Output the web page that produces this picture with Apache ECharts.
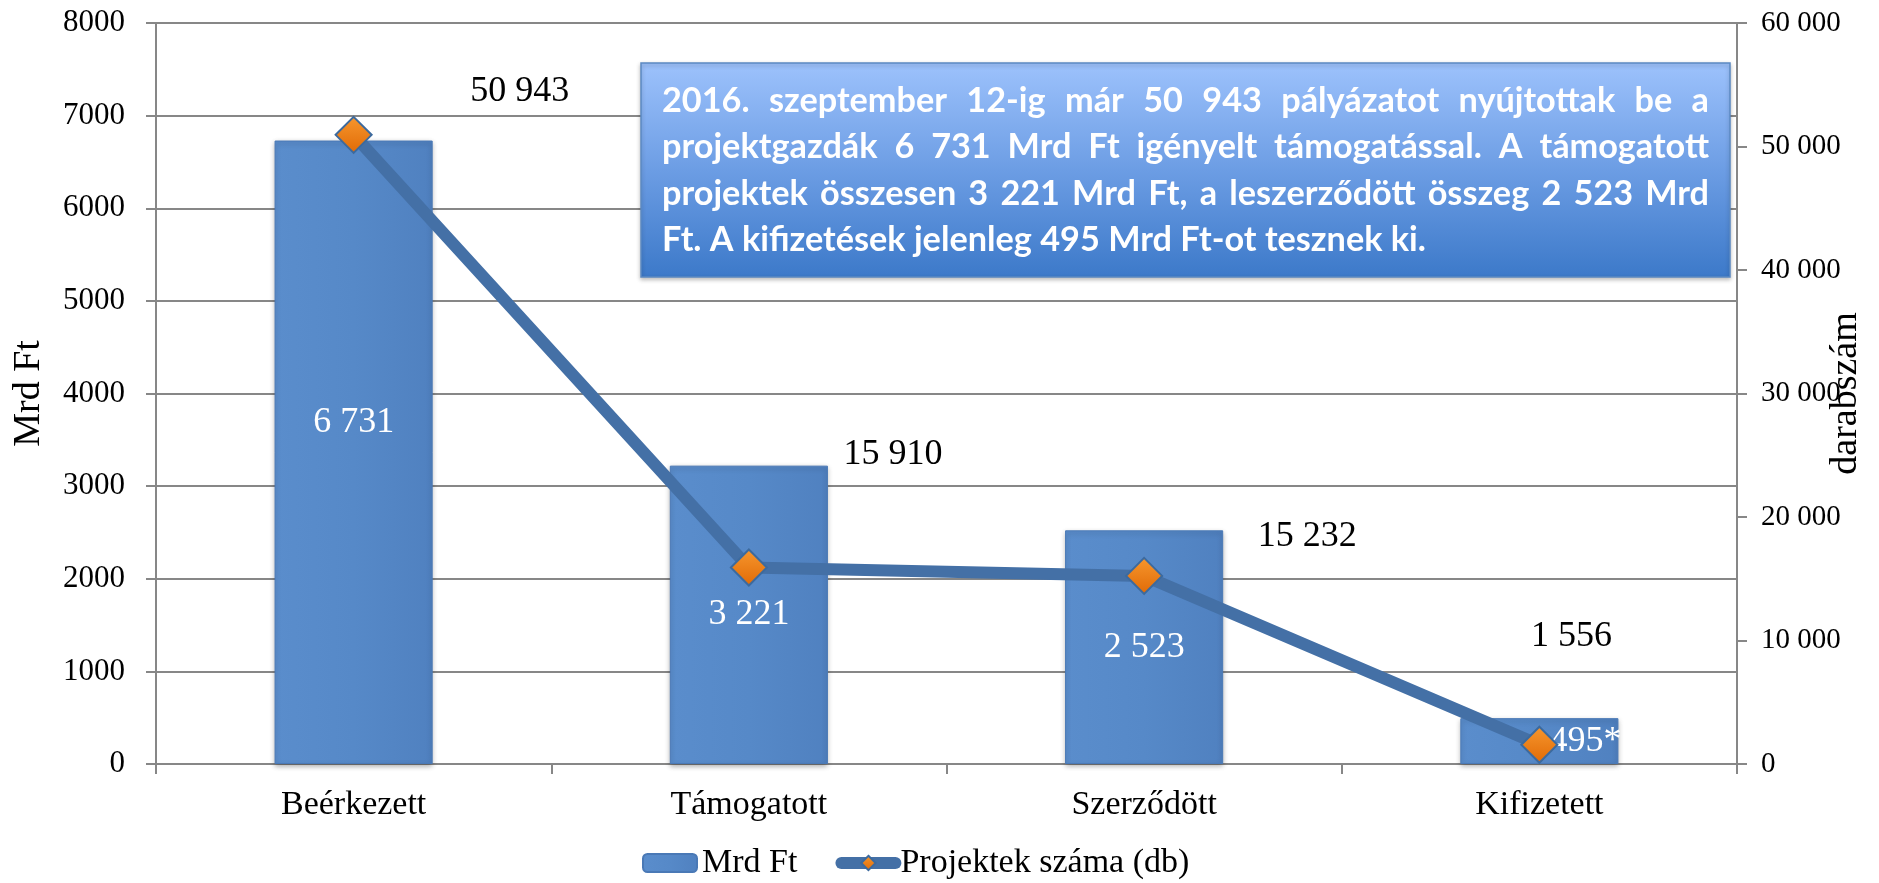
<!DOCTYPE html>
<html>
<head>
<meta charset="utf-8">
<script src="https://cdn.jsdelivr.net/npm/echarts@6/dist/echarts.min.js"></script>
<style>
html, body { margin: 0; padding: 0; background: #fff; }
#chart { width: 1879px; height: 883px; }
</style>
</head>
<body>
<div id="chart"></div>
<script>
// adatok
var categories = ['Beérkezett', 'Támogatott', 'Szerződött', 'Kifizetett'];
var mrdFt = [6731, 3221, 2523, 495];
var mrdFtNote = ['', '', '', '*'];
var projektek = [50943, 15910, 15232, 1556];
var leftTicks = [0, 1000, 2000, 3000, 4000, 5000, 6000, 7000, 8000];
var rightTicks = [0, 10000, 20000, 30000, 40000, 50000, 60000];
var boxLines = [
    '2016. szeptember 12-ig már 50 943 pályázatot nyújtottak be a',
    'projektgazdák 6 731 Mrd Ft igényelt támogatással. A támogatott',
    'projektek összesen 3 221 Mrd Ft, a leszerződött összeg 2 523 Mrd',
    'Ft. A kifizetések jelenleg 495 Mrd Ft-ot tesznek ki.'
];

// címkék eltolása (px)
var barLabelShift = [[0, -30], [0, 0], [0, 0], [46, 0]];
var lineLabelShift = [[166, -43], [144, -113], [163, -39], [32, -108]];

var serif = "'Liberation Serif', 'Times New Roman', serif";
var grey = '#878787';

function spaced(v) {
    return String(v).replace(/\B(?=(\d{3})+(?!\d))/g, ' ');
}

// szövegdoboz: sorkizárt szavak
var box = { x: 641, y: 63, w: 1089, h: 214 };
var textLeft = 662, textWidth = 1047;
var lineBase = [112, 158.5, 205, 251.5];
var ctx = document.createElement('canvas').getContext('2d');
ctx.font = 'bold 30px Lato';
var fs = 30 * 764 / ctx.measureText(boxLines[3]).width;
var boxFont = 'bold ' + fs.toFixed(2) + 'px Lato';
ctx.font = boxFont;
var spaceW = ctx.measureText(' ').width;

var graphics = [{
    type: 'rect',
    shape: { x: box.x, y: box.y, width: box.w, height: box.h },
    style: {
        fill: new echarts.graphic.LinearGradient(0, 0, 0, 1, [
            { offset: 0, color: '#9DC2FC' },
            { offset: 0.5, color: '#6C9DE4' },
            { offset: 1, color: '#3C79C9' }
        ]),
        stroke: '#5B89C2',
        lineWidth: 1.5,
        shadowBlur: 4,
        shadowColor: 'rgba(0,0,0,0.25)',
        shadowOffsetY: 2
    },
    z: 10
}];
boxLines.forEach(function (line, i) {
    var words = line.split(' ');
    var widths = words.map(function (w) { return ctx.measureText(w).width; });
    var total = widths.reduce(function (a, b) { return a + b; }, 0);
    var gap = i < boxLines.length - 1 ? (textWidth - total) / (words.length - 1) : spaceW;
    var x = textLeft;
    words.forEach(function (w, j) {
        graphics.push({
            type: 'text',
            x: x,
            y: lineBase[i] - 0.33 * fs,
            z: 11,
            style: {
                text: w,
                font: boxFont,
                fill: '#fff',
                align: 'left', verticalAlign: 'middle',
                textAlign: 'left', textVerticalAlign: 'middle'
            }
        });
        x += widths[j] + gap;
    });
});

var chart = echarts.init(document.getElementById('chart'));
var option = {
    backgroundColor: '#fff',
    animation: false,
    textStyle: { fontFamily: serif, color: '#000' },
    grid: { left: 156, right: 142, top: 23, bottom: 119, containLabel: false, outerBoundsMode: 'none' },
    legend: {
        left: 637,
        top: 841,
        itemWidth: 54,
        itemHeight: 18,
        itemGap: 38,
        textStyle: { fontSize: 34, fontFamily: serif, color: '#000' },
        data: [
            { name: 'Mrd Ft' },
            { name: 'Projektek száma (db)', lineStyle: { width: 12, color: '#4470A6', cap: 'round' } }
        ]
    },
    xAxis: {
        type: 'category',
        data: categories,
        axisLine: { lineStyle: { color: grey, width: 2 } },
        axisTick: { show: true, length: 10, lineStyle: { color: grey, width: 2 } },
        axisLabel: { fontSize: 34, fontFamily: serif, color: '#000', margin: 24 }
    },
    yAxis: [{
        type: 'value',
        min: leftTicks[0],
        max: leftTicks[leftTicks.length - 1],
        interval: leftTicks[1] - leftTicks[0],
        name: 'Mrd Ft',
        nameLocation: 'middle',
        nameRotate: 90,
        nameGap: 108,
        nameMoveOverlap: false,
        nameTextStyle: { fontSize: 38, fontFamily: serif, color: '#000' },
        axisLine: { show: true, lineStyle: { color: grey, width: 2 } },
        axisTick: { show: true, length: 10, lineStyle: { color: grey, width: 2 } },
        axisLabel: { fontSize: 31, fontFamily: serif, color: '#000', margin: 31, formatter: function (v) { return String(v); } },
        splitLine: { show: true, lineStyle: { color: grey, width: 2 } }
    }, {
        type: 'value',
        position: 'right',
        min: rightTicks[0],
        max: rightTicks[rightTicks.length - 1],
        interval: rightTicks[1] - rightTicks[0],
        name: 'darabszám',
        nameLocation: 'middle',
        nameRotate: 90,
        nameGap: 90,
        nameMoveOverlap: false,
        nameTextStyle: { fontSize: 38, fontFamily: serif, color: '#000' },
        axisLine: { show: true, lineStyle: { color: grey, width: 2 } },
        axisTick: { show: true, length: 10, lineStyle: { color: grey, width: 2 } },
        axisLabel: { fontSize: 29, fontFamily: serif, color: '#000', margin: 24, formatter: spaced },
        splitLine: { show: false }
    }],
    series: [{
        name: 'Mrd Ft',
        type: 'bar',
        barWidth: '40%',
        yAxisIndex: 0,
        data: mrdFt.map(function (v, i) {
            return { value: v, label: { offset: barLabelShift[i] } };
        }),
        itemStyle: {
            color: new echarts.graphic.LinearGradient(0, 0, 1, 0, [
                { offset: 0, color: '#5A8DCC' },
                { offset: 0.5, color: '#5689C8' },
                { offset: 1, color: '#5081C0' }
            ]),
            borderColor: '#4A79B6',
            borderWidth: 1,
            shadowBlur: 5,
            shadowColor: 'rgba(0,0,0,0.3)',
            shadowOffsetY: 2
        },
        label: {
            show: true,
            position: 'inside',
            color: '#fff',
            fontSize: 36,
            fontFamily: serif,
            formatter: function (p) { return spaced(p.value) + mrdFtNote[p.dataIndex]; }
        }
    }, {
        name: 'Projektek száma (db)',
        type: 'line',
        yAxisIndex: 1,
        data: projektek.map(function (v, i) {
            return { value: v, label: { offset: lineLabelShift[i] } };
        }),
        lineStyle: { color: '#4470A6', width: 12 },
        symbol: 'diamond',
        symbolSize: 36,
        itemStyle: {
            color: new echarts.graphic.LinearGradient(0, 0, 0, 1, [
                { offset: 0, color: '#F7972E' },
                { offset: 1, color: '#E06A06' }
            ]),
            borderColor: '#3C6A9E',
            borderWidth: 2
        },
        label: {
            show: true,
            position: 'inside',
            color: '#000',
            fontSize: 36,
            fontFamily: serif,
            formatter: function (p) { return spaced(p.value); }
        },
        z: 5
    }],
    graphic: graphics
};
chart.setOption(option);
</script>
</body>
</html>
